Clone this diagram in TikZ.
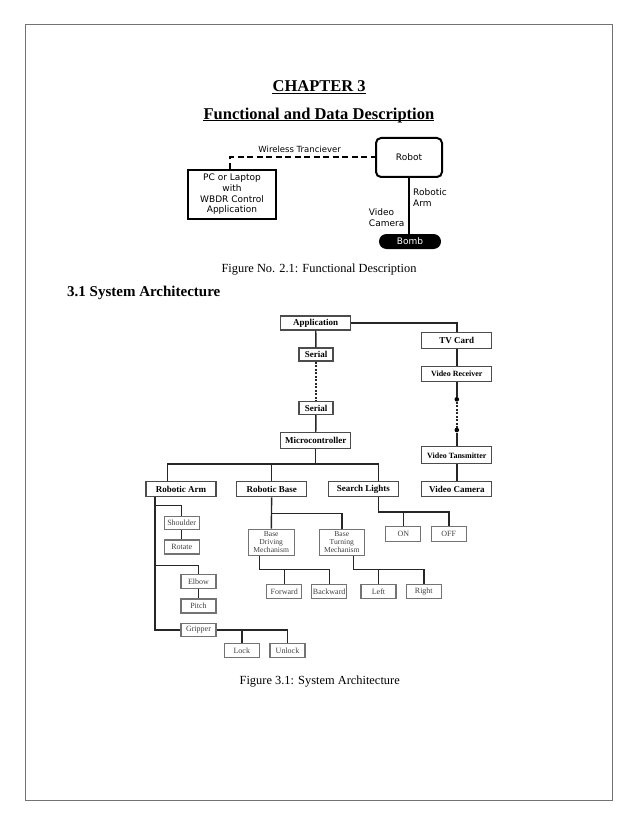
\documentclass[tikz,border=0pt]{standalone}
\usepackage{fontspec}
\setmainfont{Liberation Serif}
\newfontfamily\verdana{DejaVu Sans}
\begin{document}
\begin{tikzpicture}[x=1pt,y=-1pt,
    box/.style={draw=black!70,line width=1.1pt,minimum width=70pt,minimum height=15.5pt,inner sep=1pt,font=\bfseries\fontsize{9}{10}\selectfont},
    subbox/.style={draw=black!55,line width=1.1pt,minimum width=35pt,minimum height=14pt,inner sep=1pt,text=black!75,font=\fontsize{8}{9}\selectfont},
    link/.style={line width=1.4pt,black!85},
    wire/.style={line width=2pt},
    tag/.style={font=\verdana\fontsize{9}{10.6}\selectfont,align=left,inner sep=0pt}]
    \useasboundingbox (0,0) rectangle (638,826);
    \draw[black!55,line width=1pt] (25,25) rectangle (612.3,800.7);

    \node[font=\bfseries\fontsize{16.5}{19}\selectfont,inner sep=0pt,anchor=base] (chap) at (319.2,91.5) {CHAPTER 3};
    \draw[line width=1pt] ([yshift=-2pt]chap.base west) -- ([yshift=-2pt]chap.base east);
    \node[font=\bfseries\fontsize{16.5}{19}\selectfont,inner sep=0pt,anchor=base] (title) at (318.9,119.2) {Functional and Data Description};
    \draw[line width=1pt] ([yshift=-1.8pt]title.base west) -- ([yshift=-1.8pt]title.base east);

    % functional description
    \node[draw,line width=2pt,rounded corners=5pt,minimum width=66pt,minimum height=39pt,font=\verdana\fontsize{9}{10}\selectfont] (robot) at (409,157.5) {Robot};
    \node[draw,line width=2pt,minimum width=88pt,minimum height=49pt,inner sep=1pt,align=center,font=\verdana\fontsize{9}{10.7}\selectfont] (pc) at (232,194.5) {PC or Laptop\\with\\WBDR Control\\Application};
    \node[fill=black,rounded corners=7.5pt,minimum width=62pt,minimum height=15pt,inner sep=0pt,text=white,font=\verdana\fontsize{9}{10}\selectfont] (bomb) at (410,241.5) {Bomb};
    \draw[wire,dash pattern=on 6pt off 3.5pt] ([xshift=-2pt]pc.north) |- (robot.west) node[pos=0.74,above=4pt,tag,font=\verdana\fontsize{8.5}{10}\selectfont] (wl) {Wireless Tranciever};
    \draw[wire] (robot.south) -- (robot.south |- bomb.north);
    \node[tag,anchor=west] (armtag) at (413,197.5) {Robotic\\Arm};
    \node[tag,anchor=east] (camtag) at (404.5,217.5) {Video\\Camera};

    \node[font=\fontsize{12.4}{14}\selectfont,inner sep=0pt,anchor=base] (cap1) at (319,272) {Figure No. 2.1: Functional Description};
    \node[font=\bfseries\fontsize{15}{17}\selectfont,inner sep=0pt,anchor=base west] (sec) at (67,296.5) {3.1 System Architecture};

    % system architecture
    \node[box,minimum height=14pt] (app) at (315.7,323) {Application};
    \node[box,minimum width=34pt,minimum height=13pt] (ser1) at (316,354.5) {Serial};
    \node[box,minimum width=34pt,minimum height=13pt] (ser2) at (316,408) {Serial};
    \node[box] (mcu) at (315.7,440.5) {Microcontroller};
    \node[box] (tv) at (456.8,340.5) {TV Card};
    \node[box,font=\bfseries\fontsize{8}{9}\selectfont] (vrx) at (456.8,374) {Video Receiver};
    \node[box,minimum height=17pt,font=\bfseries\fontsize{8}{9}\selectfont] (vtx) at (456.8,455.3) {Video Tansmitter};
    \node[box] (cam) at (456.8,489) {Video Camera};
    \node[box] (arm) at (181,489) {Robotic Arm};
    \node[box] (base) at (271.7,489) {Robotic Base};
    \node[box] (lights) at (363.3,489) {Search Lights};
    \node[circle,fill,inner sep=0pt,minimum size=4.6pt] (d1) at (456.8,399.3) {};
    \node[circle,fill,inner sep=0pt,minimum size=4.6pt] (d2) at (456.8,430) {};

    \node[subbox,minimum height=13pt] (shoulder) at (181.7,523) {Shoulder};
    \node[subbox] (rotate) at (181.7,547) {Rotate};
    \node[subbox] (elbow) at (198.5,581.3) {Elbow};
    \node[subbox] (pitch) at (198.5,606) {Pitch};
    \node[subbox,minimum height=13.5pt] (gripper) at (198.5,630) {Gripper};
    \node[subbox] (lock) at (241.8,650.3) {Lock};
    \node[subbox] (unlock) at (287.5,650.3) {Unlock};
    \node[subbox,minimum width=46pt,minimum height=26pt,inner sep=0.5pt,align=center,font=\fontsize{7.6}{8.2}\selectfont] (bdm) at (271.2,542.2) {Base\\Driving\\Mechanism};
    \node[subbox,minimum width=45pt,minimum height=26pt,inner sep=0.5pt,align=center,font=\fontsize{7.6}{8.2}\selectfont] (btm) at (341.8,542.2) {Base\\Turning\\Mechanism};
    \node[subbox,minimum height=14.5pt] (fwd) at (284.2,591.5) {Forward};
    \node[subbox,minimum height=14.5pt] (bwd) at (329.2,591.5) {Backward};
    \node[subbox,minimum height=14.5pt] (left) at (378.5,591.5) {Left};
    \node[subbox,minimum height=14.5pt] (right) at (423.8,591.5) {Right};
    \node[subbox,minimum height=14.5pt] (on) at (403.3,533.8) {ON};
    \node[subbox,minimum height=14.5pt] (off) at (448.8,533.8) {OFF};
    \coordinate (bus) at (315.7,464);

    \draw[link] (app) -- (ser1);
    \draw[link,dash pattern=on 2pt off 1.5pt] (ser1) -- (ser2);
    \draw[link] (ser2) -- (mcu);
    \draw[link] (mcu) -- (bus);
    \draw[link] ([xshift=-13.3pt]arm.north) |- (bus) -| ([xshift=15pt]lights.north);
    \draw[link] (base) -- (base |- bus);
    \draw[link] (app.east) -| (tv.north);
    \draw[link] (tv) -- (vrx);
    \draw[link] (vrx) -- (d1);
    \draw[link,dash pattern=on 2pt off 1.5pt] (d1) -- (d2);
    \draw[link] (d2) -- (vtx);
    \draw[link] (vtx) -- (cam);

    \draw[link] ([xshift=-26pt]arm.south) |- (gripper.west);
    \draw[link] ([xshift=-26pt,yshift=-8pt]arm.south) -| (shoulder.north);
    \draw[link] ([xshift=-26pt,yshift=-68pt]arm.south) -| (elbow.north);
    \draw[link] (shoulder) -- (rotate);
    \draw[link] (elbow) -- (pitch);
    \draw[link] (gripper.east) -| (unlock.north);
    \draw[link] (lock.north) |- (gripper.east);

    \draw[link] (base) -- (bdm);
    \draw[link] ([yshift=-16pt]base.south) -| (btm.north);
    \draw[link] ([xshift=-12pt]bdm.south) |- ([yshift=14pt]bwd.north) -- (bwd.north);
    \draw[link] (fwd.north) -- ([yshift=14pt]fwd.north);
    \draw[link] ([xshift=11.5pt]btm.south) |- ([yshift=14pt]right.north) -- (right.north);
    \draw[link] (left.north) -- ([yshift=14pt]left.north);
    \draw[link] ([xshift=15pt]lights.south) |- ([yshift=13.85pt]off.north) -- (off.north);
    \draw[link] (on.north) -- ([yshift=13.85pt]on.north);

    \node[font=\fontsize{12.4}{14}\selectfont,inner sep=0pt,anchor=base] (cap2) at (319.7,684) {Figure 3.1: System Architecture};
\end{tikzpicture}
\end{document}
